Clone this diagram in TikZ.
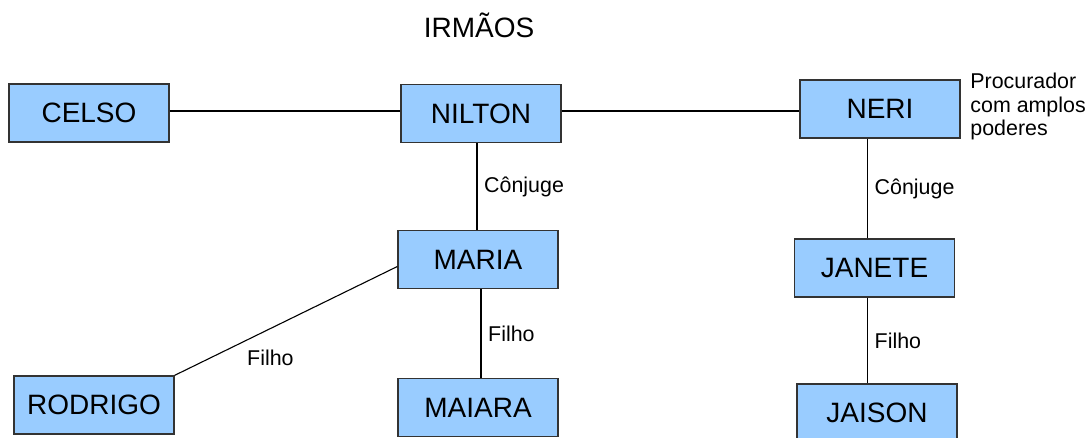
\documentclass[tikz,border=0pt]{standalone}
\usepackage{fontspec}
\setmainfont{Liberation Sans}
\usepackage{tikz}
\definecolor{boxblue}{HTML}{99CCFF}
\definecolor{boxline}{HTML}{333333}
\tikzstyle{block} = [rectangle, draw=boxline, line width=0.65pt, fill=boxblue,
    minimum width=80pt, minimum height=29pt, inner sep=0pt, font=\fontsize{14}{16}\selectfont]
\tikzstyle{line} = [draw, line width=0.55pt]
\tikzstyle{rel} = [font=\fontsize{10.7}{11.75}\selectfont]

\begin{document}
\begin{tikzpicture}[x=0.5pt, y=-0.5pt]
  \useasboundingbox (0,0) rectangle (1088,438);
  % title
  \node [anchor=base, font=\fontsize{14}{16}\selectfont] (irmaos) at (479,38) {IRMÃOS};
  % nodes
  \node [block] (celso) at (89,113) {CELSO};
  \node [block] (nilton) at (481,113.5) {NILTON};
  \node [block] (neri) at (880,109) {NERI};
  \node [block] (maria) at (478,259.5) {MARIA};
  \node [block] (janete) at (874.5,268) {JANETE};
  \node [block] (rodrigo) at (94,405) {RODRIGO};
  \node [block] (maiara) at (478,407.5) {MAIARA};
  \node [block] (jaison) at (877,413) {JAISON};
  \node [rel, anchor=north west, align=left, inner sep=0pt] (procurador) at (970,73)
    {Procurador\\com amplos\\poderes};
  % edges
  \path [line] ([yshift=1.25pt]nilton.west -| celso.east) -- ([yshift=1.25pt]nilton.west);
  \path [line] ([yshift=1.25pt]nilton.east) -- ([yshift=1.25pt]nilton.east -| neri.west);
  \path [line] ([xshift=-2pt]nilton.south) -- node [rel, right] {Cônjuge} ([xshift=-2pt]nilton.south |- maria.north);
  \path [line] ([yshift=-3.5pt]maria.west) -- node [rel, pos=0.57, below=7pt] {Filho} (rodrigo.north east);
  \path [line] ([xshift=1.5pt]maria.south) -- node [rel, right] {Filho} ([xshift=1.5pt]maria.south |- maiara.north);
  \path [line] ([xshift=-3.5pt]janete.north |- neri.south) -- node [rel, right] {Cônjuge} ([xshift=-3.5pt]janete.north);
  \path [line] ([xshift=-3.5pt]janete.south) -- node [rel, right] {Filho} ([xshift=-3.5pt]janete.south |- jaison.north);
\end{tikzpicture}
\end{document}
